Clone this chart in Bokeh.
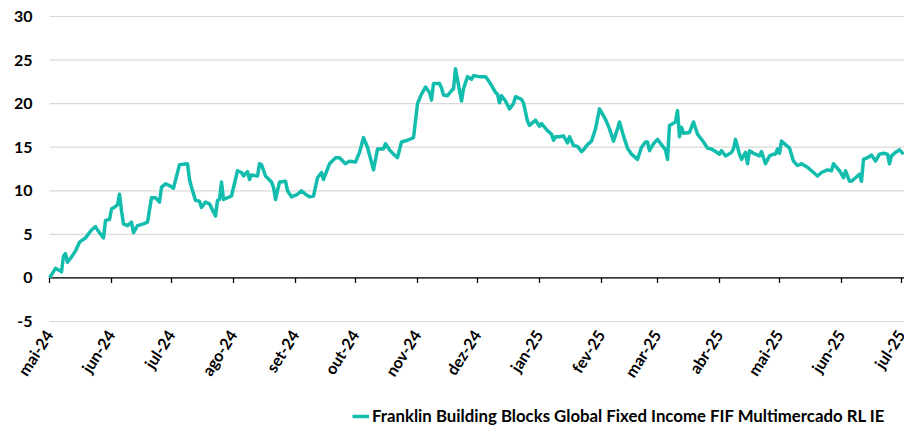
import pandas as pd
from bokeh.plotting import figure
from bokeh.models import Legend, LegendItem, Range1d, ColumnDataSource
from bokeh.core.properties import value
from bokeh.embed import file_html
from bokeh.resources import INLINE

series_name = "Franklin Building Blocks Global Fixed Income FIF Multimercado RL IE"
start_date = "2024-05-01"
end_date = "2025-07-02 12:00"

# days since 2024-05-01
day_offsets = [
    0, 3, 6, 7, 8, 9, 11, 13, 15, 18, 21, 23, 24, 27, 28, 30, 31, 33, 34, 35,
    36, 37, 39, 41, 42, 44, 47, 49, 51, 53, 55, 56, 58, 60, 62, 65, 69, 70, 71, 73,
    75, 76, 78, 80, 83, 84, 85, 86, 87, 89, 91, 94, 96, 97, 99, 100, 101, 104, 105, 106,
    108, 111, 112, 113, 115, 118, 119, 121, 124, 126, 128, 130, 132, 134, 136, 137, 140, 143, 145, 148,
    150, 153, 155, 157, 159, 162, 164, 167, 168, 170, 172, 174, 176, 179, 182, 183, 184, 186, 188, 190,
    191, 192, 195, 196, 197, 199, 201, 202, 203, 205, 206, 207, 209, 211, 212, 215, 218, 219, 221, 223,
    224, 225, 226, 228, 230, 232, 233, 236, 237, 239, 240, 242, 243, 245, 246, 249, 251, 252, 253, 255,
    257, 259, 260, 262, 264, 266, 267, 269, 271, 273, 275, 278, 280, 282, 284, 285, 287, 289, 291, 294,
    296, 298, 299, 300, 302, 304, 306, 308, 309, 310, 313, 314, 315, 316, 317, 320, 322, 324, 327, 329,
    331, 333, 335, 336, 338, 341, 342, 343, 345, 346, 348, 349, 350, 352, 355, 356, 358, 360, 362, 363,
    364, 365, 366, 368, 370, 372, 374, 376, 379, 382, 384, 386, 389, 391, 392, 395, 397, 398, 400, 401,
    403, 405, 406, 407, 409, 411, 413, 415, 417, 419, 420, 421, 423, 425, 427,
]
values = [
    0.0, 1.1, 0.7, 2.5, 2.8, 1.8, 2.4, 3.1, 4.1, 4.6, 5.5, 5.9, 5.5, 4.6, 6.6, 6.7, 7.9, 8.2, 8.4, 9.6,
    7.7, 6.2, 6.0, 6.4, 5.2, 6.0, 6.2, 6.4, 9.2, 9.2, 8.7, 10.4, 10.8, 10.6, 10.3, 13.0, 13.1, 11.3, 10.4, 8.9,
    8.8, 8.1, 8.7, 8.5, 7.1, 8.9, 9.0, 11.0, 9.0, 9.2, 9.4, 12.3, 12.1, 11.7, 12.2, 11.3, 11.8, 11.7, 13.1, 13.0,
    11.7, 11.0, 10.4, 9.0, 11.0, 11.1, 10.0, 9.3, 9.6, 10.0, 9.6, 9.3, 9.4, 11.5, 12.1, 11.3, 13.1, 13.8, 13.8, 13.1,
    13.4, 13.3, 14.4, 16.1, 15.0, 12.4, 14.8, 14.8, 15.4, 14.7, 14.2, 13.8, 15.6, 15.8, 16.1, 18.0, 20.0, 21.1, 21.9, 21.3,
    20.4, 22.3, 22.3, 21.8, 21.0, 20.9, 21.5, 21.7, 24.0, 21.5, 20.3, 21.7, 23.1, 22.8, 23.2, 23.1, 23.1, 22.8, 22.1, 21.3,
    21.1, 20.1, 20.9, 20.3, 19.4, 20.0, 20.8, 20.5, 20.1, 18.0, 17.5, 17.9, 18.1, 17.4, 17.7, 16.9, 16.5, 15.8, 16.2, 16.2,
    16.3, 15.5, 16.2, 15.2, 15.1, 14.5, 14.7, 15.3, 15.7, 17.1, 19.4, 18.2, 17.1, 15.7, 17.1, 17.9, 16.3, 14.9, 14.2, 13.6,
    15.0, 15.6, 15.6, 14.6, 15.4, 15.9, 15.3, 14.7, 13.6, 17.5, 17.9, 19.2, 16.2, 17.3, 16.6, 16.7, 17.9, 16.5, 15.6, 14.9,
    14.8, 14.5, 14.2, 14.6, 14.0, 14.4, 14.8, 15.9, 14.2, 13.6, 14.4, 13.1, 14.6, 14.3, 14.0, 14.5, 13.1, 14.0, 14.2, 14.2,
    14.8, 14.3, 15.7, 15.3, 14.9, 13.4, 12.9, 13.1, 12.7, 12.1, 11.7, 12.1, 12.4, 12.3, 13.1, 12.3, 11.5, 12.3, 11.1, 11.1,
    11.5, 11.9, 11.1, 13.6, 13.8, 14.1, 13.4, 14.2, 14.3, 14.2, 13.1, 14.0, 14.4, 14.7, 14.2,
]

month_starts = ["2024-05-01", "2024-06-01", "2024-07-01", "2024-08-01", "2024-09-01",
                "2024-10-01", "2024-11-01", "2024-12-01", "2025-01-01", "2025-02-01",
                "2025-03-01", "2025-04-01", "2025-05-01", "2025-06-01", "2025-07-01"]
month_labels = ["mai-24", "jun-24", "jul-24", "ago-24", "set-24", "out-24", "nov-24",
                "dez-24", "jan-25", "fev-25", "mar-25", "abr-25", "mai-25", "jun-25", "jul-25"]
y_ticks = [-5, 0, 5, 10, 15, 20, 25, 30]
y_labels = ["-5", "0", "5", "10", "15", "20", "25", "30"]

LINE_COLOR = "#12BDAE"
GRID_COLOR = "#D9D9D9"
FONT = "Lato"

# layout in pixels: whole canvas is the frame; the data band sits inside it
W, H = 904, 436
PLOT_LEFT, PLOT_TOP, PLOT_W, PLOT_H = 49, 16, 855, 305
TICK_PX = 5

y_top, y_bot = max(y_ticks), min(y_ticks)
px_per_unit = PLOT_H / (y_top - y_bot)
y_range = Range1d(y_top - (H - PLOT_TOP) / px_per_unit,
                  y_top + PLOT_TOP / px_per_unit)
t0, t1 = pd.Timestamp(start_date), pd.Timestamp(end_date)
px_per_day = PLOT_W / ((t1 - t0) / pd.Timedelta(days=1))
x_range = Range1d(t0 - pd.Timedelta(days=PLOT_LEFT / px_per_day),
                  t0 + pd.Timedelta(days=(W - PLOT_LEFT) / px_per_day))

dates = t0 + pd.to_timedelta(day_offsets, unit="D")
src = ColumnDataSource(data=dict(date=dates, value=values))

n_m = len(month_starts)
month_src = ColumnDataSource(data=dict(
    x=pd.to_datetime(month_starts), label=month_labels,
    y0=[0] * n_m, y1=[-TICK_PX / px_per_unit] * n_m, ylab=[y_bot] * n_m))

n_y = len(y_ticks)
ytick_src = ColumnDataSource(data=dict(
    y=y_ticks, label=y_labels, x0=[t0] * n_y, x1=[t1] * n_y))

p = figure(x_axis_type="datetime", x_axis_location=None, y_axis_location=None,
           frame_width=W, frame_height=H,
           output_backend="svg", toolbar_location=None,
           x_range=x_range, y_range=y_range,
           min_border=0)
p.outline_line_color = None
p.background_fill_color = "white"
p.border_fill_color = "white"
p.grid.visible = False

# horizontal grid lines and y labels
p.segment(x0="x0", y0="y", x1="x1", y1="y", source=ytick_src,
          line_color=GRID_COLOR, line_width=1.2)
p.text(x="x0", y="y", text="label", source=ytick_src,
       text_align="right", text_baseline="middle", x_offset=-17,
       text_font=value(FONT), text_font_style="bold", text_font_size="16px",
       text_color="#000000")

# horizontal axis line at zero with monthly ticks
p.segment(x0=t0, y0=0, x1=t1, y1=0, line_color="#000000", line_width=1.3)
p.segment(x0="x", y0="y0", x1="x", y1="y1", source=month_src,
          line_color="#000000", line_width=1.3)

# month labels under the plot
p.text(x="x", y="ylab", text="label", source=month_src, angle=1.0,
       text_align="right", text_baseline="middle", x_offset=-1, y_offset=10,
       text_font=value(FONT), text_font_style="bold", text_font_size="16px",
       text_color="#000000")

r = p.line(x="date", y="value", source=src, line_color=LINE_COLOR, line_width=3.5,
           line_join="round")

legend = Legend(items=[LegendItem(label=series_name, renderers=[r])],
                location=(352, 10), orientation="horizontal",
                border_line_color=None, background_fill_alpha=0,
                label_text_font=FONT, label_text_font_style="bold",
                label_text_font_size="16.8px", label_text_color="#000000",
                glyph_width=17, glyph_height=16, label_standoff=3,
                padding=0, margin=0, spacing=0)
p.add_layout(legend, "center")

open("out.html", "w").write(file_html(p, INLINE))
